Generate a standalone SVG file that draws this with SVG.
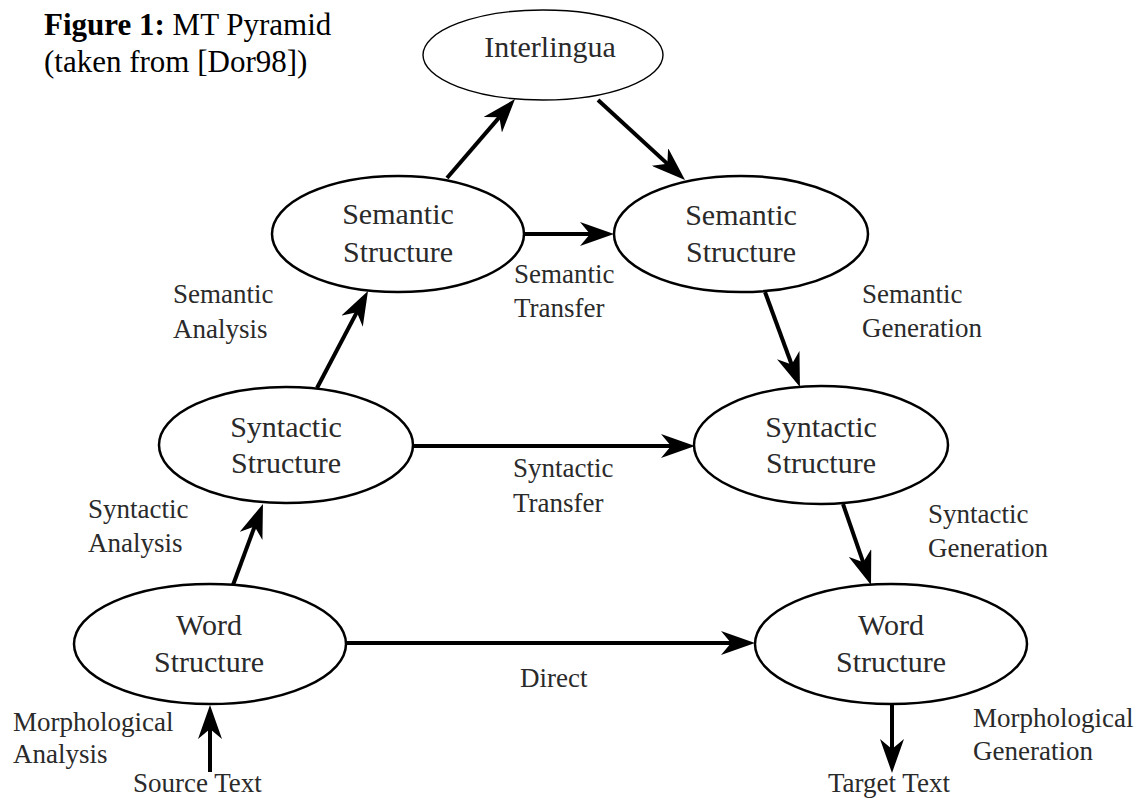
<svg xmlns="http://www.w3.org/2000/svg" width="1143" height="799" viewBox="0 0 1143 799">
<style>
.node{fill:#fff;stroke:#000;stroke-width:2.5}
.thin{fill:#fff;stroke:#000;stroke-width:1.4}
.nt{font-family:"Liberation Serif",serif;font-size:30px;fill:#2a2a2a;text-anchor:middle}
.lb{font-family:"Liberation Serif",serif;font-size:27px;fill:#2a2a2a}
.title{font-family:"Liberation Serif",serif;font-size:31px;fill:#000}
.edge{stroke:#000;stroke-width:4;fill:none;marker-end:url(#ah)}
</style>
<defs>
<marker id="ah" markerUnits="userSpaceOnUse" viewBox="0 0 34 24" refX="22" refY="12" markerWidth="34" markerHeight="24" orient="auto">
<path d="M34,12 L0,0 L10,12 L0,24 Z" fill="#000"/>
</marker>
</defs>
<rect width="1143" height="799" fill="#fff"/>
<g id="title">
<text class="title" x="44" y="35"><tspan font-weight="bold">Figure 1:</tspan> MT Pyramid</text>
<text class="title" x="44" y="72">(taken from [Dor98])</text>
</g>
<g id="connectors">
<line class="edge" x1="447" y1="178" x2="507.2" y2="108.1"/>
<line class="edge" x1="598" y1="100" x2="676.2" y2="171.9"/>
<line class="edge" x1="524" y1="234" x2="602" y2="234"/>
<line class="edge" x1="317" y1="388" x2="362.4" y2="301.6"/>
<line class="edge" x1="765" y1="292" x2="795.8" y2="375.7"/>
<line class="edge" x1="413" y1="446" x2="683" y2="446"/>
<line class="edge" x1="233" y1="585" x2="258.8" y2="515.2"/>
<line class="edge" x1="843" y1="504" x2="867.1" y2="573.7"/>
<line class="edge" x1="346" y1="643" x2="743" y2="643"/>
<line class="edge" x1="210" y1="772" x2="210" y2="717"/>
<line class="edge" x1="892" y1="704" x2="892" y2="761"/>
</g>
<g id="interlingua">
<ellipse class="thin" cx="543" cy="55" rx="120" ry="45"/>
<text class="nt" x="550" y="57">Interlingua</text>
</g>
<g id="sem-l">
<ellipse class="node" cx="398" cy="234" rx="126" ry="58"/>
<text class="nt" x="398" y="224">Semantic</text>
<text class="nt" x="398" y="262">Structure</text>
</g>
<g id="sem-r">
<ellipse class="node" cx="741" cy="234" rx="127" ry="58"/>
<text class="nt" x="741" y="225">Semantic</text>
<text class="nt" x="741" y="262">Structure</text>
</g>
<g id="syn-l">
<ellipse class="node" cx="286" cy="445" rx="127" ry="58"/>
<text class="nt" x="286" y="437">Syntactic</text>
<text class="nt" x="286" y="473">Structure</text>
</g>
<g id="syn-r">
<ellipse class="node" cx="821" cy="445" rx="127" ry="59"/>
<text class="nt" x="821" y="437">Syntactic</text>
<text class="nt" x="821" y="473">Structure</text>
</g>
<g id="word-l">
<ellipse class="node" cx="210" cy="644" rx="136" ry="60"/>
<text class="nt" x="209" y="635">Word</text>
<text class="nt" x="209" y="672">Structure</text>
</g>
<g id="word-r">
<ellipse class="node" cx="891" cy="644" rx="136" ry="60"/>
<text class="nt" x="891" y="635">Word</text>
<text class="nt" x="891" y="672">Structure</text>
</g>
<g id="labels">
<text class="lb" x="173" y="303">Semantic</text>
<text class="lb" x="173" y="338">Analysis</text>
<text class="lb" x="514" y="283">Semantic</text>
<text class="lb" x="514" y="317">Transfer</text>
<text class="lb" x="862" y="303">Semantic</text>
<text class="lb" x="862" y="337">Generation</text>
<text class="lb" x="88" y="518">Syntactic</text>
<text class="lb" x="88" y="552">Analysis</text>
<text class="lb" x="513" y="477">Syntactic</text>
<text class="lb" x="513" y="512">Transfer</text>
<text class="lb" x="928" y="523">Syntactic</text>
<text class="lb" x="928" y="557">Generation</text>
<text class="lb" x="520" y="687">Direct</text>
<text class="lb" x="13" y="731">Morphological</text>
<text class="lb" x="13" y="763">Analysis</text>
<text class="lb" x="133" y="792">Source Text</text>
<text class="lb" x="973" y="727">Morphological</text>
<text class="lb" x="973" y="760">Generation</text>
<text class="lb" x="828" y="792">Target Text</text>
</g>
</svg>
